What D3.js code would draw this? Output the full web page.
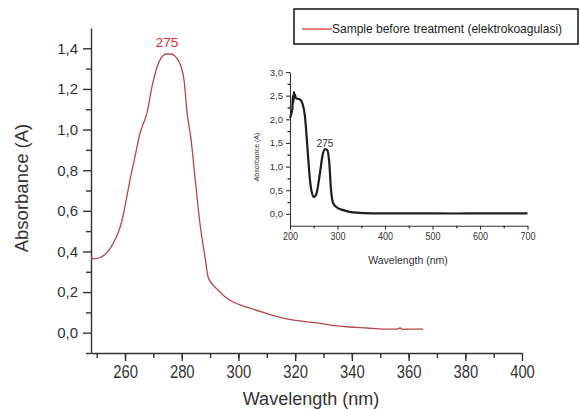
<!DOCTYPE html>
<html>
<head>
<meta charset="utf-8">
<script src="https://cdn.jsdelivr.net/npm/d3@7"></script>
<style>
  body { margin: 0; background: #fff; }
  svg { display: block; font-family: "Liberation Sans", Arial, sans-serif; }
  .axis path, .axis line { stroke: #333; stroke-width: 1.4; }
  .axis text { fill: #333; }
</style>
</head>
<body>
<svg id="chart" width="580" height="409"></svg>
<script>
// main spectrum (sample before treatment), wavelength nm / absorbance
const mainWl = [248, 249.4, 251.2, 252.9, 254.7, 255.8, 257.5, 258.9, 260.3, 261.8, 263.5, 265.3, 266.3, 267.7, 269.5, 271.3, 272.7, 273.7, 274.8, 276.2, 277.6, 278.7, 279.7, 280.8, 281.9, 283.3, 284.7, 286.4, 288.2, 289.3, 291, 292.8, 294.5, 298.1, 303, 309.4, 315.7, 321.7, 327.7, 334, 339.3, 345.3, 351, 355.9, 357, 358, 360.5, 365.1];
const mainAbs = [0.368, 0.363, 0.37, 0.385, 0.413, 0.44, 0.49, 0.55, 0.645, 0.755, 0.865, 0.983, 1.023, 1.08, 1.21, 1.308, 1.352, 1.367, 1.372, 1.372, 1.362, 1.343, 1.313, 1.244, 1.082, 0.949, 0.762, 0.54, 0.373, 0.274, 0.235, 0.21, 0.186, 0.151, 0.126, 0.097, 0.072, 0.058, 0.048, 0.035, 0.028, 0.023, 0.018, 0.018, 0.023, 0.016, 0.018, 0.018];

// inset: full range spectrum
const insetWl = [200, 203, 205, 206, 207, 208.4, 209, 210.5, 212, 214, 221, 226, 231.6, 235, 238.6, 242, 245.6, 250.5, 256, 263, 268.8, 273.7, 278.6, 282.8, 286.3, 291.2, 298.3, 312, 333, 375, 450, 550, 600, 700];
const insetAbs = [2.03, 2.13, 2.22, 2.5, 2.35, 2.58, 2.45, 2.52, 2.46, 2.44, 2.42, 2.34, 2.05, 1.63, 1.14, 0.72, 0.47, 0.36, 0.44, 0.86, 1.25, 1.37, 1.35, 1.07, 0.51, 0.22, 0.14, 0.08, 0.03, 0.01, 0.01, 0.008, 0.01, 0.01];

const mainXTicks = [260, 280, 300, 320, 340, 360, 380, 400];
const mainYTicks = [0, 0.2, 0.4, 0.6, 0.8, 1.0, 1.2, 1.4];
const insetXTicks = [200, 300, 400, 500, 600, 700];
const insetYTicks = [0, 0.5, 1.0, 1.5, 2.0, 2.5, 3.0];
const legendLabel = "Sample before treatment (elektrokoagulasi)";
const peakLabel = "275";

const comma = d => d3.format(".1f")(d).replace(".", ",");
const svg = d3.select("#chart");

//main chart scales
const x = d3.scaleLinear().domain([248, 400]).range([91, 522]);
const y = d3.scaleLinear().domain([-0.1, 1.5]).range([353, 28]);

// minor ticks first
svg.append("g").attr("class", "axis")
  .attr("transform", "translate(0,353)")
  .call(d3.axisBottom(x).tickValues(d3.range(250, 400, 10)).tickSize(5).tickFormat(""))
  .select(".domain").remove();
svg.append("g").attr("class", "axis")
  .attr("transform", "translate(91,0)")
  .call(d3.axisLeft(y).tickValues(d3.range(-0.1, 1.5, 0.2)).tickSize(5).tickFormat(""))
  .select(".domain").remove();

const gx = svg.append("g").attr("class", "axis")
  .attr("transform", "translate(0,353)")
  .call(d3.axisBottom(x).tickValues(mainXTicks).tickSize(8).tickSizeOuter(0).tickPadding(4).tickFormat(d3.format("d")));
gx.selectAll("text").style("font-size", "19px").attr("transform", "scale(0.78,1)");

const gy = svg.append("g").attr("class", "axis")
  .attr("transform", "translate(91,0)")
  .call(d3.axisLeft(y).tickValues(mainYTicks).tickSize(8).tickSizeOuter(0).tickPadding(5).tickFormat(comma));
gy.selectAll("text").style("font-size", "15px");

svg.append("text")
  .attr("transform", "translate(28,188) rotate(-90)")
  .attr("text-anchor", "middle")
  .style("font-size", "18.5px").style("fill", "#333")
  .text("Absorbance (A)");
svg.append("text")
  .attr("x", 311).attr("y", 405)
  .attr("text-anchor", "middle")
  .style("font-size", "18px").style("fill", "#333")
  .text("Wavelength (nm)");

const mainData = mainWl.map((w, i) => [w, mainAbs[i]]);
svg.append("path")
  .datum(mainData)
  .attr("fill", "none")
  .attr("stroke", "#b5464a")
  .attr("stroke-width", 1.3)
  .attr("d", d3.line().x(d => x(d[0])).y(d => y(d[1])).curve(d3.curveMonotoneX));

svg.append("text")
  .attr("x", x(274.8)).attr("y", 47)
  .attr("text-anchor", "middle")
  .style("font-size", "13.5px").style("fill", "#e8262b")
  .text(peakLabel);

//inset
const ix = d3.scaleLinear().domain([200, 700]).range([290, 527.5]);
const iy = d3.scaleLinear().domain([-0.25, 3.0]).range([225.7, 72]);

svg.append("g").attr("class", "axis")
  .attr("transform", "translate(0,225.7)")
  .call(d3.axisBottom(ix).tickValues(d3.range(250, 700, 100)).tickSize(2.5).tickFormat(""))
  .select(".domain").remove();
svg.append("g").attr("class", "axis")
  .attr("transform", "translate(290,0)")
  .call(d3.axisLeft(iy).tickValues(d3.range(0.25, 3, 0.5)).tickSize(2.5).tickFormat(""))
  .select(".domain").remove();

const igx = svg.append("g").attr("class", "axis")
  .attr("transform", "translate(0,225.7)")
  .call(d3.axisBottom(ix).tickValues(insetXTicks).tickSize(4).tickSizeOuter(0).tickPadding(3).tickFormat(d3.format("d")));
igx.selectAll("text").style("font-size", "10px").attr("transform", "scale(0.9,1)");
igx.selectAll("path, line").style("stroke-width", 1.1);

const igy = svg.append("g").attr("class", "axis")
  .attr("transform", "translate(290,0)")
  .call(d3.axisLeft(iy).tickValues(insetYTicks).tickSize(4).tickSizeOuter(0).tickPadding(3).tickFormat(comma));
igy.selectAll("text").style("font-size", "9.5px");
igy.selectAll("path, line").style("stroke-width", 1.1);

svg.append("text")
  .attr("transform", "translate(259,157) rotate(-90)")
  .attr("text-anchor", "middle")
  .style("font-size", "7px").style("fill", "#333")
  .text("Absorbance (A)");
svg.append("text")
  .attr("x", 408).attr("y", 264)
  .attr("text-anchor", "middle")
  .style("font-size", "10.5px").style("fill", "#333")
  .text("Wavelength (nm)");

const insetData = insetWl.map((w, i) => [w, insetAbs[i]]);
svg.append("path")
  .datum(insetData)
  .attr("fill", "none")
  .attr("stroke", "#1e1e1e")
  .attr("stroke-width", 2.2)
  .attr("d", d3.line().x(d => ix(d[0])).y(d => iy(d[1])).curve(d3.curveMonotoneX));

svg.append("text")
  .attr("x", ix(273.7)).attr("y", 147)
  .attr("text-anchor", "middle")
  .style("font-size", "10px").style("fill", "#333")
  .text(peakLabel);

//legend
const legend = svg.append("g");
legend.append("rect")
  .attr("x", 294).attr("y", 9).attr("width", 284).attr("height", 35)
  .attr("fill", "#fff").attr("stroke", "#111").attr("stroke-width", 1.5);
legend.append("line")
  .attr("x1", 302).attr("x2", 332).attr("y1", 29).attr("y2", 29)
  .attr("stroke", "#e8262b").attr("stroke-width", 1.2);
legend.append("text")
  .attr("x", 332).attr("y", 33)
  .style("font-size", "12px").style("fill", "#222")
  .text(legendLabel);
</script>
</body>
</html>
